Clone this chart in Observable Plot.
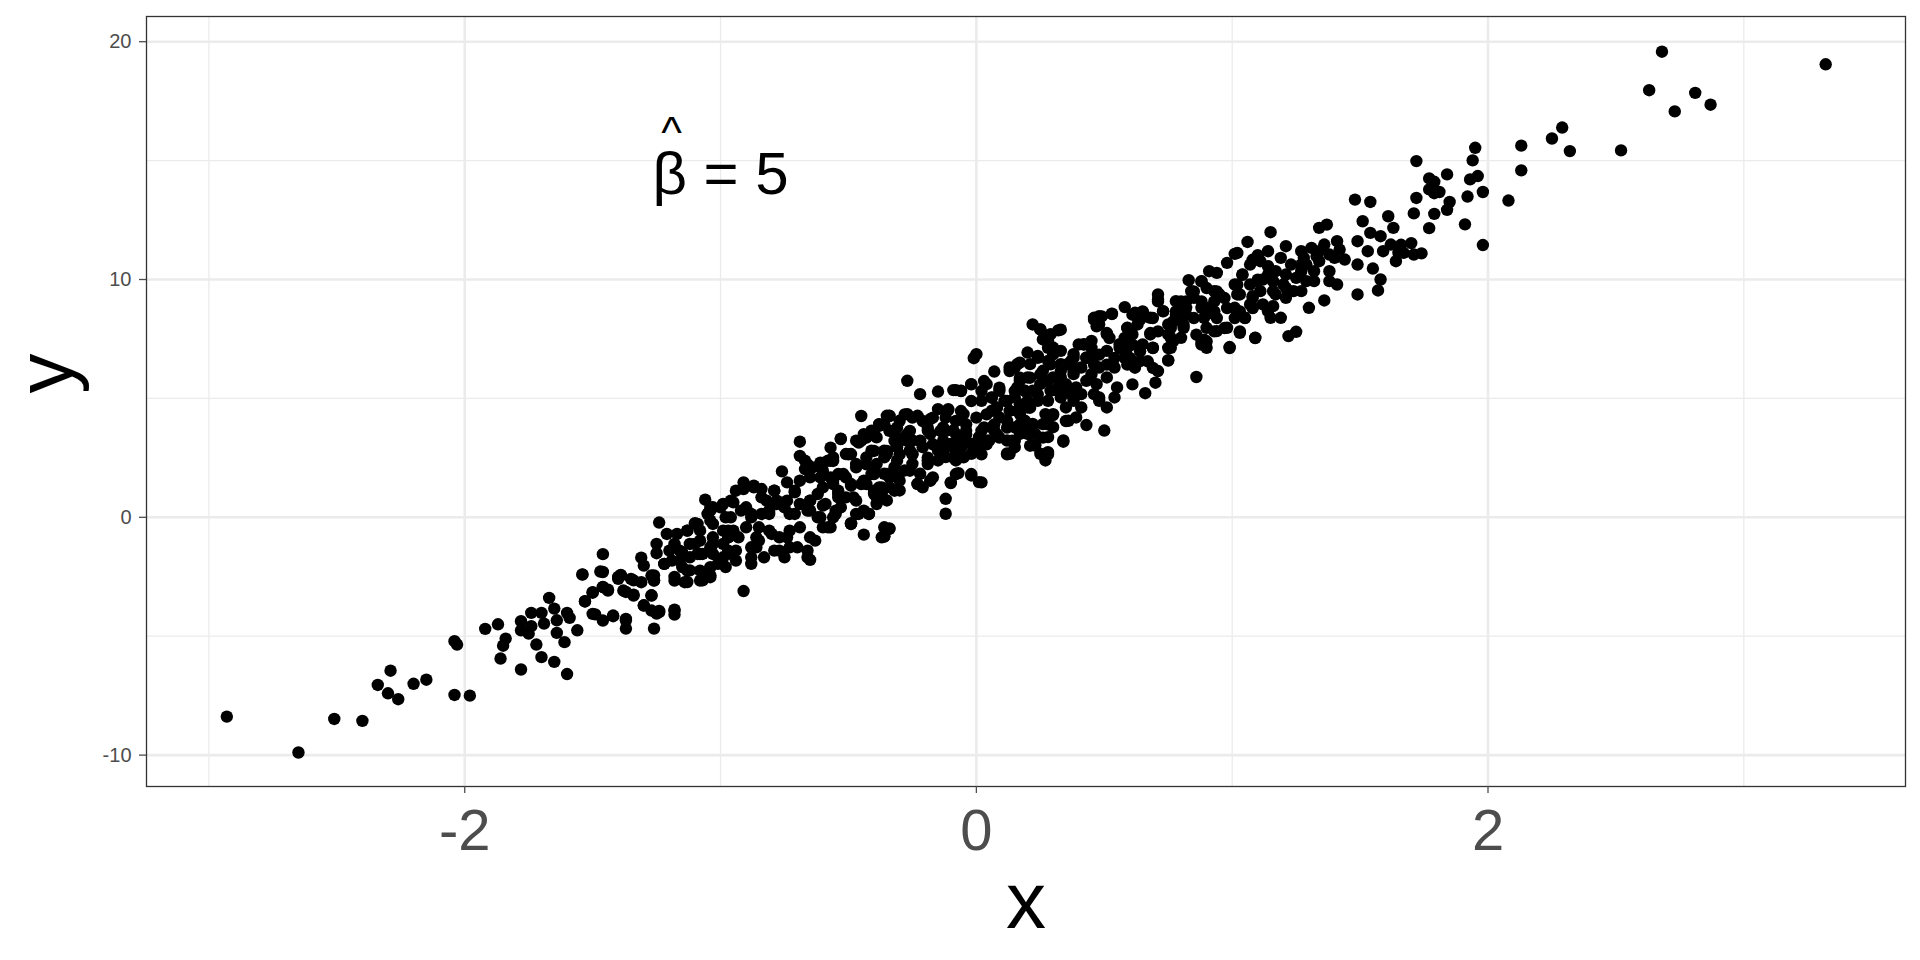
<!DOCTYPE html>
<html>
<head>
<meta charset="utf-8">
<script src="https://cdn.jsdelivr.net/npm/d3@7"></script>
<script src="https://cdn.jsdelivr.net/npm/@observablehq/plot@0.6"></script>
<style>
  body { margin: 0; background: white; }
</style>
</head>
<body>
<div id="chart"></div>
<script>
// points, region by region
const xs = [
  -2.93,-2.65,-2.51,-2.40,-2.34,-2.29,-2.30,-2.26,-2.20,-2.15,-2.04,-1.98,-2.04,-2.03,-1.92,-1.87,-1.84,-1.85,-1.86,-1.78,
  -1.78,-1.78,-1.75,-1.74,-1.74,-1.70,-1.69,-1.67,-1.65,-1.64,-1.64,-1.60,-1.59,-1.61,-1.72,-1.70,-1.65,-1.60,-1.56,-1.54,
  -1.53,-1.50,-1.46,-1.46,-1.46,-1.44,-1.49,-1.46,-1.42,-1.40,
  -1.39,-1.37,-1.34,-1.37,-1.37,-1.26,-1.27,-1.30,-1.24,-1.25,-1.18,-1.18,-1.31,-1.30,-1.34,-1.26,-1.26,-1.25,-1.25,-1.24,
  -1.22,-1.19,-1.17,-1.18,-1.15,-1.18,-1.15,-1.13,-1.13,-1.10,-1.10,-1.12,-1.12,-1.06,-1.04,-1.04,-1.03,-1.07,-1.07,-1.04,
  -1.01,-1.00,-0.98,-0.97,-0.97,-0.95,-0.93,-0.96,-0.98,-0.94,-0.91,-0.91,-0.91,-0.90,-0.88,-0.88,-0.88,-0.87,-0.84,-0.84,
  -0.85,-0.85,-0.83,-0.81,-0.80,-0.79,-0.78,-0.76,-0.77,-0.74,-0.74,-0.74,-0.71,-0.71,-0.70,-0.69,-0.69,-0.69,-0.66,-0.65,
  -0.65,-0.63,-0.65,-0.61,-0.61,-0.59,-0.58,-0.57,-0.57,-0.56,-0.54,-0.55,-0.53,-0.52,-0.50,-0.49,-0.49,-0.46,-0.44,-0.45,
  -0.46,-0.43,-0.43,-0.43,-0.42,-0.40,-0.40,-0.40,-0.39,-0.38,-0.37,
  -0.34,-0.36,-0.34,-0.38,-0.27,-0.22,-0.15,-0.15,-0.08,-0.06,-0.02,-0.01,0.00,-0.12,-0.12,-0.10,-0.07,-0.02,0.01,-0.11,
  -0.27,-0.23,-0.18,-0.30,-0.32,-0.28,-0.25,-0.19,-0.13,-0.09,-0.05,-0.06,-0.10,-0.15,-0.21,-0.26,-0.31,-0.35,-0.32,-0.28,
  -0.25,-0.19,-0.22,-0.23,-0.18,-0.30,-0.34,-0.31,-0.36,-0.35,-0.37,-0.15,-0.12,-0.08,-0.02,0.00,0.01,0.03,0.02,0.04,
  0.07,0.06,0.09,0.08,0.09,0.07,0.05,0.12,0.13,0.15,0.13,0.15,0.13,0.16,0.17,0.19,0.20,0.17,0.19,0.20,
  0.21,0.22,0.25,0.24,0.20,0.23,0.23,0.25,0.27,0.28,0.24,0.25,0.26,0.28,0.29,0.30,0.32,0.26,0.27,0.30,
  0.29,0.30,0.33,0.34,0.33,0.36,0.35,0.37,0.38,0.39,0.41,0.39,0.43,0.42,0.45,0.46,0.48,0.53,0.43,0.46,
  0.45,0.47,0.48,0.48,0.51,0.50,0.48,0.51,0.51,0.54,0.55,0.54,0.56,0.51,0.48,
  0.58,0.62,0.65,0.59,0.61,0.63,0.68,0.66,0.61,0.70,0.71,0.64,0.62,0.58,0.59,0.65,0.69,0.68,0.75,0.75,
  0.76,0.77,0.73,0.71,0.71,0.78,0.80,0.81,0.82,0.83,0.85,0.84,0.88,0.88,0.89,0.90,0.88,0.90,0.86,0.91,
  0.94,0.93,0.95,0.93,0.94,0.98,0.99,0.98,1.01,1.02,1.01,1.02,1.03,1.02,1.04,1.05,1.06,1.07,1.08,1.08,
  1.09,1.10,1.11,1.12,1.12,1.14,1.14,1.15,1.14,1.15,1.16,1.17,1.16,1.19,1.19,1.21,1.20,1.21,1.22,1.25,
  1.23,1.24,1.25,1.27,1.27,1.28,1.30,1.31,1.32,1.32,1.33,1.34,1.36,1.36,1.37,1.38,1.38,1.40,1.41,1.41,
  1.42,1.44,1.48,1.54,1.51,1.49,1.49,1.49,1.53,1.54,1.55,1.58,1.57,1.58,1.61,1.59,1.62,1.63,1.64,1.65,
  2.68,3.32,2.63,2.81,2.73,2.87,2.29,2.25,2.32,2.13,2.13,2.52,2.08,1.95,1.94,1.72,1.77,1.79,1.84,1.93,
  1.96,1.77,1.79,1.81,1.92,1.98,1.72,1.85,1.84,1.71,1.79,1.77,1.91,1.98,1.70,1.66,1.74,1.71,1.67
];
const ys = [
  -8.38,-9.89,-8.48,-8.56,-7.05,-6.45,-7.40,-7.65,-7.00,-6.83,-7.47,-7.50,-5.21,-5.35,-4.69,-4.50,-5.10,-5.40,-5.94,-6.40,
  -4.37,-4.75,-4.89,-4.58,-4.02,-4.02,-4.47,-3.39,-3.84,-4.33,-4.86,-4.02,-4.23,-5.25,-5.35,-5.88,-6.08,-6.59,-4.75,-2.40,
  -3.53,-3.17,-2.30,-1.55,-2.93,-3.04,-4.08,-4.34,-4.16,-2.51,
  -2.42,-3.14,-3.25,-4.33,-4.68,-4.68,-3.28,-3.70,-3.94,-4.05,-3.88,-4.09,-1.70,-2.03,-2.65,-2.44,-2.65,-1.12,-1.51,-0.22,
  -1.96,-1.82,-0.70,-1.19,-1.47,-2.51,-2.09,-2.72,-0.56,-0.25,-1.12,-1.68,-2.23,0.74,0.28,-0.14,-1.12,-1.54,-2.65,-2.44,
  -1.96,0.42,0.00,-0.56,-0.84,0.63,-0.84,-1.54,-2.09,-1.82,-3.10,1.47,1.19,0.42,0.14,-1.26,-1.96,1.33,1.19,0.84,
  -0.42,-0.98,-1.68,0.14,-0.70,1.12,0.56,1.93,-1.40,1.47,0.70,-0.84,1.12,0.14,-1.26,3.18,2.58,1.54,2.23,0.70,
  0.28,-0.98,-1.79,2.30,0.00,0.56,-0.42,2.93,1.68,2.37,1.12,0.14,3.31,1.82,2.65,1.33,-0.25,0.14,-0.73,4.26,
  3.14,3.35,2.23,1.40,0.14,3.63,2.79,1.82,0.84,3.91,-0.84,
  -0.47,-0.80,4.27,3.85,5.74,5.18,5.29,4.55,5.35,5.32,5.60,6.69,6.86,0.78,0.15,1.44,1.86,1.76,1.48,4.55,
  4.34,4.27,4.13,4.06,3.51,3.37,3.23,3.65,3.78,3.65,4.34,3.23,3.09,2.81,2.95,2.81,2.95,2.67,2.11,1.97,
  2.25,2.39,1.83,1.41,1.55,1.13,1.27,1.69,1.83,0.71,0.99,2.39,2.53,2.39,2.67,2.95,3.37,3.78,4.90,5.60,
  6.13,5.04,5.32,4.62,4.20,3.65,3.23,3.23,2.67,3.78,4.48,5.04,6.30,6.44,5.74,5.32,4.62,4.34,4.06,6.93,
  6.44,8.11,7.90,6.79,3.51,3.51,3.02,2.67,2.39,2.74,4.90,5.60,6.16,7.42,7.70,7.14,7.86,3.92,4.34,4.34,
  5.32,5.88,6.44,3.23,5.04,4.06,5.60,6.44,6.02,5.46,4.62,4.20,3.88,7.28,7.42,8.39,8.46,8.56,6.72,6.86,
  6.02,5.60,4.90,5.04,4.62,3.65,6.30,7.70,7.00,6.30,5.46,5.04,7.28,5.88,8.11,
  8.84,8.60,8.64,7.97,7.69,8.11,8.39,5.22,5.59,5.66,6.15,6.57,6.29,6.71,7.13,7.27,7.13,7.69,8.11,6.61,
  7.13,7.41,8.67,9.37,9.16,9.09,8.39,7.97,8.81,9.97,9.23,9.51,9.93,8.81,8.39,7.97,7.34,7.13,5.90,10.35,
  10.28,9.51,9.37,8.53,7.83,7.97,7.16,10.70,9.79,9.37,8.81,8.53,7.76,11.12,10.21,8.39,11.58,10.63,9.30,8.81,
  7.55,11.02,10.77,10.00,8.95,10.56,11.19,11.99,8.67,8.39,9.93,9.37,8.88,8.39,10.91,11.40,9.79,9.23,7.62,7.80,
  10.63,9.51,10.07,11.19,10.63,10.91,8.81,11.33,10.35,9.93,10.98,12.17,11.47,9.12,12.31,10.35,9.93,10.91,11.61,9.79,
  11.26,10.84,13.36,13.26,12.45,11.61,10.63,9.37,11.19,11.96,10.46,10.00,9.54,11.82,12.66,11.19,11.47,12.17,10.77,11.12,
  19.58,19.05,17.96,17.85,17.07,17.35,16.39,15.93,15.40,15.63,14.59,15.43,13.32,15.54,15.01,14.98,14.25,14.11,14.42,14.21,
  14.35,13.79,13.63,13.68,13.49,13.68,13.43,13.26,12.93,12.78,12.76,12.16,12.32,11.45,11.53,11.46,11.10,11.05,11.12
];

// extra points inside the dense band
const xsLow = [
  -1.47,-1.54,-1.39,-1.40,-1.35,-1.31,-1.27,-1.26,-1.46,-1.44,
  -1.50,-1.53,-1.38,-1.34,-1.27,-1.30,-1.27,-1.24,-1.18,-1.50,
  -1.42,-1.37,-1.21,-1.22,-1.18,-1.20,-1.16,-1.12,-1.13,-1.10,
  -1.08,-1.05,-1.03,-0.99,-0.96,-0.94,-1.16,-1.13,-1.08,-1.04,
  -1.04,-1.08,-1.03,-0.97,-1.03,-0.97,-0.95,-1.18,-1.14,-1.08
];
const ysLow = [
  -2.28,-2.41,-2.45,-2.59,-2.59,-2.73,-2.45,-2.66,-2.94,-3.08,
  -3.15,-3.54,-3.08,-3.29,-3.29,-3.71,-3.92,-3.99,-3.92,-4.06,
  -4.13,-4.27,-0.70,-1.96,-1.12,-1.40,-1.40,-1.12,-0.56,-0.28,
  -0.56,0.14,0.42,0.56,0.70,1.12,-1.82,-2.24,-2.24,-2.52,
  -2.10,-1.54,-1.54,-1.40,-0.84,-0.84,-0.56,-2.66,-2.73,-2.66
];

const xsMidLeft = [
  -0.87,-0.79,-0.67,-0.67,-0.71,-0.78,-0.82,-1.04,-1.05,-1.09,
  -1.03,-0.96,-0.92,-0.88,-0.84,-0.81,-0.75,-0.73,-0.69,-0.66,
  -0.65,-0.62,-0.60,-0.60,-0.58,-0.56,-0.54,-0.56,-0.60,-0.62,
  -0.60,-0.56,-0.53,-0.51,-0.49,-0.51,-0.47,-0.44,-0.41,-0.39,
  -0.35,-0.47,-0.45,-0.43,-0.41,-0.40,-0.39,-0.36,-0.35,-0.37,
  -0.47,-0.44,-0.49,-0.54,-0.65,-0.64,-0.61,-0.99,-0.95,-0.90,
  -0.86,-0.81,-0.77,-0.73,-0.69,-0.65,-0.66,-0.73,-0.79,-0.86,
  -0.94,-0.99,-1.04,-1.08,-1.09,-0.99,-0.88,-0.75,-0.66,-0.36
];
const ysMidLeft = [
  1.26,1.12,2.38,2.03,1.05,0.70,0.70,0.42,0.14,-0.28,
  -0.28,0.00,0.28,0.00,0.14,0.28,0.42,0.14,0.56,0.28,
  0.70,0.98,1.26,1.96,2.38,2.52,1.82,1.40,0.49,0.00,
  -0.42,0.00,0.42,0.84,2.66,1.68,3.22,3.50,3.64,3.36,
  4.27,2.10,1.40,2.52,1.82,1.12,2.24,2.80,1.82,1.26,
  0.70,0.28,-0.28,0.98,1.68,2.10,1.68,-0.56,-0.70,-0.42,
  -0.84,-0.56,-0.84,-0.56,-0.42,-0.84,-1.40,-1.26,-1.40,-1.26,
  -1.40,-1.12,-1.26,-0.98,-1.54,-1.68,-1.68,-1.68,-1.68,-0.42
];

const xsCentre = [
  -0.53,-0.57,-0.56,-0.54,-0.55,-0.57,-0.49,-0.36,-0.34,-0.47,
  -0.42,-0.39,-0.40,-0.48,-0.49,-0.44,-0.38,-0.32,-0.30,-0.34,
  -0.40,-0.47,-0.51,-0.45,-0.40,-0.38,-0.41,-0.36,-0.31,-0.26,
  -0.23,-0.18,-0.21,-0.17,-0.19,-0.25,-0.31,-0.34,-0.27,-0.22,
  -0.15,-0.18,-0.13,-0.12,-0.08,-0.04,-0.02,-0.08,-0.05,-0.08,
  -0.10,-0.02,0.02,0.00,0.04,0.08,0.14,0.12,0.06,0.16,
  0.20,0.21
];
const ysCentre = [
  3.29,2.38,1.54,0.84,0.28,-0.42,-0.28,-0.81,-0.49,0.14,
  0.14,0.56,0.98,0.84,1.40,1.54,1.26,1.12,1.54,1.68,
  1.96,2.24,2.66,3.22,3.50,3.92,2.80,2.52,2.38,1.96,
  1.40,1.54,1.26,1.68,2.24,2.66,3.08,3.64,3.50,3.22,
  2.94,3.50,3.22,3.64,3.50,3.64,3.08,2.80,2.52,1.82,
  1.47,1.82,1.47,2.80,3.22,3.50,3.22,2.69,3.78,3.78,
  3.64,3.01
];

const xsMidRight = [
  -0.09,-0.06,-0.02,-0.11,-0.06,-0.02,0.02,0.03,0.06,0.09,
  0.13,0.15,0.17,0.24,0.25,0.26,0.28,0.30,0.29,0.33,
  0.37,0.38,0.40,0.34,0.37,0.32,0.28,0.25,0.21,0.17,
  0.15,0.19,0.24,0.21,0.17,0.12,0.08,0.04,0.00,-0.04,
  -0.08,-0.12,-0.17,-0.21,-0.25,-0.28,-0.34,-0.36,-0.31,-0.26,
  -0.19,-0.14,-0.09,-0.04,0.02,0.07,0.12,0.17,0.22,0.28,
  0.30,0.35,0.26,0.21,0.15,0.09,0.04,-0.01,-0.06,-0.12,
  -0.17,-0.22,-0.27,-0.32,-0.35,-0.30,-0.25,-0.19,-0.14,-0.09,
  0.02,0.12,0.23,0.28,0.34
];
const ysMidRight = [
  5.35,5.31,5.59,4.51,4.47,4.89,5.31,5.73,5.03,5.45,
  6.15,6.29,6.50,6.71,7.90,7.48,7.13,6.85,6.43,6.15,
  6.57,6.15,7.27,5.59,5.17,5.31,5.73,6.01,5.87,5.87,
  5.31,5.31,5.17,4.61,4.75,4.89,4.61,4.33,4.19,3.91,
  4.05,4.19,4.19,4.05,4.19,4.33,4.26,3.91,3.77,3.63,
  3.77,3.63,3.63,3.49,3.63,3.91,3.77,3.91,3.77,3.91,
  4.30,4.05,3.35,3.49,3.21,3.35,3.07,2.93,2.93,2.93,
  3.07,3.21,3.21,3.21,2.79,2.65,2.65,2.51,2.65,2.51,
  2.65,2.65,3.04,2.65,3.18
];

const xsHigh = [
  1.01,0.88,1.08,1.10,1.04,1.02,1.08,1.08,1.03,1.01,
  1.05,1.03,1.09,0.99,0.97,0.98,0.97,0.94,0.90,0.93,
  0.93,0.90,0.94,0.93,0.90,0.88,0.86,0.85,0.88,0.85,
  0.82,0.80,0.78,0.82,0.81,0.77,0.76,0.76,0.75,0.75,
  0.71,0.73,0.69,0.71,0.68,0.69,0.65,0.64,0.61,0.59,
  0.58,0.53,0.49,0.46,0.47,0.51,0.52,0.56,0.61,0.64,
  0.60,0.54,0.48,0.45,0.42,0.43,0.38,0.35,0.33,0.46,
  0.51,0.59,0.67,0.69,0.89
];
const ysHigh = [
  11.08,9.92,10.83,9.99,10.20,9.78,9.22,8.80,8.66,8.38,
  8.38,7.82,7.54,7.12,7.96,8.80,9.22,9.50,9.64,9.08,
  8.66,8.80,8.38,7.82,7.40,7.26,7.68,8.38,9.08,9.50,
  9.08,9.08,8.66,8.52,8.10,8.24,7.96,7.54,7.12,6.59,
  9.08,8.66,8.38,7.82,7.75,7.12,8.66,8.31,8.52,7.96,
  7.54,8.55,8.45,8.31,8.03,7.75,7.54,7.12,7.26,6.98,
  6.70,6.70,6.84,7.12,7.26,6.70,6.70,6.42,7.89,6.42,
  6.42,6.42,6.56,6.28,7.47
];

const xsFill = [
  0.06,0.11,0.16,0.20,0.22,0.20,0.16,0.12,0.28,0.32,
  0.33,0.35,0.38,0.35,0.30,0.28,0.22,0.17,0.15,0.41,
  0.43,0.46,0.41,0.38,0.33,0.28,
  1.03,1.07,1.10,1.14,1.17,1.21,1.27,1.29,1.34,1.38,
  1.34,1.29,1.21,1.16,1.11,1.07,1.27,0.78,0.81,0.75,
  0.80
];
const ysFill = [
  4.48,4.90,5.46,5.88,5.32,4.90,4.48,4.06,4.90,5.46,
  5.88,5.32,4.90,4.62,3.79,3.37,3.93,3.51,2.95,6.30,
  5.74,5.18,5.18,6.86,7.00,6.58,
  9.37,9.79,9.93,10.21,10.35,10.21,10.35,10.63,10.77,11.05,
  11.19,9.93,9.65,9.51,9.51,8.95,9.51,8.53,8.81,7.69,
  7.55
];

const xMajor = [-2, 0, 2];
const xMinor = [-3, -1, 1, 3];
const yMajor = [-10, 0, 10, 20];
const yMinor = [-5, 5, 15];

const annoX = [-1];
const annoY = [15];
const annoText = ["β = 5"];

const xAll = xs.concat(xsLow, xsMidLeft, xsCentre, xsMidRight, xsHigh, xsFill);
const yAll = ys.concat(ysLow, ysMidLeft, ysCentre, ysMidRight, ysHigh, ysFill);

const grid = "#EBEBEB";

const chart = Plot.plot({
  width: 1920,
  height: 960,
  marginLeft: 146,
  marginRight: 15,
  marginTop: 16,
  marginBottom: 174,
  x: {domain: [-3.244, 3.632]},
  y: {domain: [-11.32, 21.06]},
  style: {fontFamily: "Liberation Sans", background: "white"},
  marks: [
    Plot.gridX(xMinor, {stroke: grid, strokeOpacity: 1, strokeWidth: 1.3}),
    Plot.gridY(yMinor, {stroke: grid, strokeOpacity: 1, strokeWidth: 1.3}),
    Plot.gridX(xMajor, {stroke: grid, strokeOpacity: 1, strokeWidth: 2.6}),
    Plot.gridY(yMajor, {stroke: grid, strokeOpacity: 1, strokeWidth: 2.6}),
    Plot.dot(xAll, {x: xAll, y: yAll, r: 6.2, fill: "black", stroke: null}),
    Plot.text(annoText, {x: annoX, y: annoY, text: d => d, fontSize: 60, lineAnchor: "bottom", dy: 33, fill: "black"}),
    Plot.text(["^"], {x: annoX, y: annoY, text: d => d, fontSize: 44, lineAnchor: "bottom", dx: -49, dy: -13, fill: "black"}),
    Plot.frame({stroke: "#333333", strokeWidth: 1.3}),
    Plot.axisX(xMajor, {tickSize: 7, tickPadding: 15, fontSize: 58, color: "#4D4D4D", strokeWidth: 1.3, label: null, tickFormat: d => String(d)}),
    Plot.axisY(yMajor, {tickSize: 7, tickPadding: 8, fontSize: 20, color: "#4D4D4D", strokeWidth: 1.3, label: null, tickFormat: d => String(d)}),
    Plot.text(["x"], {frameAnchor: "bottom", text: d => d, fontSize: 80, lineAnchor: "bottom", dy: 141, fill: "black"}),
    Plot.text(["y"], {frameAnchor: "left", text: d => d, fontSize: 80, rotate: -90, lineAnchor: "bottom", dx: -75, dy: -8, fill: "black"})
  ]
});

document.getElementById("chart").append(chart);
</script>
</body>
</html>
